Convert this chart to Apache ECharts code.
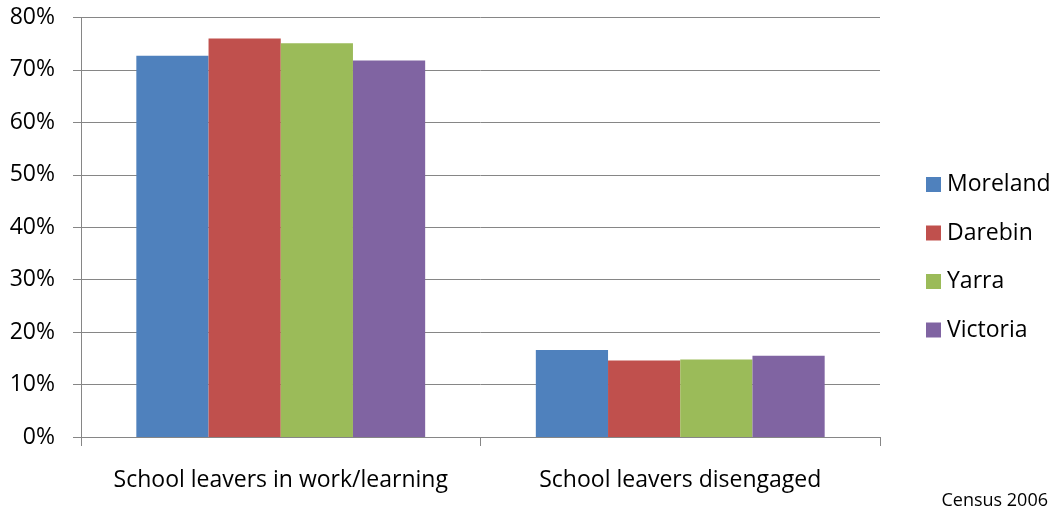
<!DOCTYPE html>
<html>
<head>
<meta charset="utf-8">
<script src="https://cdn.jsdelivr.net/npm/echarts@6/dist/echarts.min.js"></script>
<style>html,body{margin:0;padding:0;background:#fff;}#c{width:1054px;height:515px;}</style>
</head>
<body>
<div id="c"></div>
<script>
var categories = ["School leavers in work/learning", "School leavers disengaged"];
var seriesNames = ["Moreland", "Darebin", "Yarra", "Victoria"];
var moreland = [72.7, 16.6];
var darebin = [76.0, 14.6];
var yarra = [75.1, 14.8];
var victoria = [71.8, 15.5];
var colors = ["#4F81BD", "#C0504D", "#9BBB59", "#8064A2"];
var yTicks = [0, 10, 20, 30, 40, 50, 60, 70, 80];
var sourceNote = "Census 2006";

var values = [moreland, darebin, yarra, victoria];
var font = "'Open Sans', 'Liberation Sans', sans-serif";
var chart = echarts.init(document.getElementById('c'), null, {renderer: 'canvas'});
chart.setOption({
  animation: false,
  color: colors,
  textStyle: {fontFamily: font},
  grid: {left: 81, right: 174, top: 17.5, bottom: 78, containLabel: false},
  legend: {
    orient: 'vertical', left: 921, top: 168,
    itemWidth: 15, itemHeight: 15, itemGap: 25.5,
    icon: 'rect',
    textStyle: {fontSize: 23, color: '#000', fontFamily: font, padding: [0,0,0,1]},
    data: seriesNames
  },
  graphic: [{
    type: 'text', right: 6, top: 492,
    style: {text: sourceNote, font: "18px 'Open Sans', sans-serif", fill: '#000'}
  }],
  xAxis: {
    type: 'category', data: categories,
    axisLine: {show: true, lineStyle: {color: '#868686', width: 1}},
    axisTick: {show: true, length: 9, alignWithLabel: false, lineStyle: {color: '#868686'}},
    axisLabel: {fontSize: 23, color: '#000', margin: 32, interval: 0, fontFamily: font}
  },
  yAxis: {
    type: 'value', min: yTicks[0], max: yTicks[yTicks.length - 1], interval: 10,
    axisLine: {show: true, lineStyle: {color: '#868686', width: 1}},
    axisTick: {show: true, length: 8, inside: false, lineStyle: {color: '#868686'}},
    splitLine: {show: true, lineStyle: {color: '#868686', width: 1}},
    axisLabel: {fontSize: 23, color: '#000', margin: 26, fontFamily: font,
      formatter: function (v) { return v + '%'; }}
  },
  series: seriesNames.map(function (n, i) {
    return {
      name: n, type: 'bar', data: values[i],
      barGap: '0%', barCategoryGap: '27.7%',
      itemStyle: {color: colors[i]}
    };
  })
});
</script>
</body>
</html>
